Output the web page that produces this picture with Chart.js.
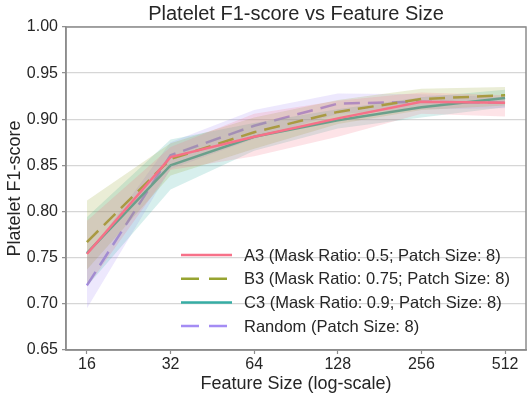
<!DOCTYPE html>
<html>
<head>
<meta charset="utf-8">
<script src="https://cdn.jsdelivr.net/npm/chart.js@4/dist/chart.umd.min.js"></script>
<style>
  html, body { margin: 0; padding: 0; background: #fff; }
  #wrap { width: 532px; height: 399px; position: relative; }
</style>
</head>
<body>
<div id="wrap"><canvas id="f1Chart" width="532" height="399"></canvas></div>
<script>
// feature sizes (x, log scale)
const featureSizes = [16, 32, 64, 128, 256, 512];
const yTicks = [0.65, 0.70, 0.75, 0.80, 0.85, 0.90, 0.95, 1.00];

const labels = [
  'A3 (Mask Ratio: 0.5; Patch Size: 8)',
  'B3 (Mask Ratio: 0.75; Patch Size: 8)',
  'C3 (Mask Ratio: 0.9; Patch Size: 8)',
  'Random (Patch Size: 8)'
];

// mean F1
const a3 = [0.754, 0.859, 0.881, 0.901, 0.919, 0.918];
const b3 = [0.767, 0.857, 0.886, 0.908, 0.922, 0.926];
const c3 = [0.755, 0.850, 0.881, 0.899, 0.913, 0.923];
const rnd = [0.720, 0.861, 0.893, 0.917, 0.919, 0.918];

// confidence bands
const a3Lo = [0.718, 0.845, 0.860, 0.881, 0.906, 0.903];
const a3Hi = [0.790, 0.870, 0.906, 0.920, 0.929, 0.926];
const b3Lo = [0.737, 0.839, 0.868, 0.895, 0.910, 0.915];
const b3Hi = [0.812, 0.874, 0.902, 0.921, 0.933, 0.935];
const c3Lo = [0.719, 0.824, 0.866, 0.890, 0.902, 0.913];
const c3Hi = [0.794, 0.878, 0.896, 0.911, 0.924, 0.932];
const rndLo = [0.695, 0.846, 0.879, 0.906, 0.911, 0.912];
const rndHi = [0.751, 0.875, 0.910, 0.928, 0.927, 0.924];

const colors = ['#f77189', '#97a431', '#36ada4', '#a48cf4'];
const bands = ['rgba(247,113,137,0.2)', 'rgba(151,164,49,0.2)', 'rgba(54,173,164,0.2)', 'rgba(164,140,244,0.2)'];
const dashes = [[], [16, 8], [], [16, 8]];
const legendDashes = [[], [18, 10], [], [18, 10]];

const means = [a3, b3, c3, rnd];
const lows = [a3Lo, b3Lo, c3Lo, rndLo];
const highs = [a3Hi, b3Hi, c3Hi, rndHi];

const pts = arr => arr.map((v, i) => ({x: featureSizes[i], y: v}));

let datasets = [];
means.forEach((m, i) => {
  datasets.push({ label: 'lo', data: pts(lows[i]), borderWidth: 0, pointRadius: 0, fill: false });
  datasets.push({ label: 'hi', data: pts(highs[i]), borderWidth: 0, pointRadius: 0, fill: '-1', backgroundColor: bands[i] });
  datasets.push({ label: labels[i], data: pts(m), borderColor: colors[i], borderWidth: 2.5, borderDash: dashes[i], pointRadius: 0, fill: false, tension: 0 });
});

const font = '"Liberation Sans", Arial, sans-serif';
const txt = '#262626';

// frame + legend inside plot
const extras = {
  id: 'extras',
  afterDatasetsDraw(chart) {
    const ctx = chart.ctx, a = chart.chartArea;
    ctx.save();
    // legend
    ctx.font = '16.5px ' + font;
    ctx.textBaseline = 'middle';
    ctx.fillStyle = txt;
    labels.forEach((l, i) => {
      const y = 255 + i * 23.7;
      ctx.beginPath();
      ctx.strokeStyle = colors[i];
      ctx.lineWidth = 2.5;
      ctx.setLineDash(legendDashes[i]);
      ctx.moveTo(181, y);
      ctx.lineTo(232, y);
      ctx.stroke();
      ctx.setLineDash([]);
      ctx.fillText(l, 244, y + 1);
    });
    // spines
    ctx.strokeStyle = '#8c8c8c';
    ctx.lineWidth = 1.5;
    ctx.strokeRect(a.left, a.top, a.right - a.left, a.bottom - a.top);
    ctx.restore();
  }
};

new Chart(document.getElementById('f1Chart'), {
  type: 'line',
  data: { datasets: datasets },
  options: {
    responsive: false,
    animation: false,
    layout: { padding: { left: 0, right: 6, top: 0, bottom: 0 } },
    plugins: {
      legend: { display: false },
      tooltip: { enabled: false },
      title: {
        display: true,
        text: 'Platelet F1-score vs Feature Size',
        fullSize: false,
        color: txt,
        font: { family: font, size: 20, weight: 'normal' },
        padding: { top: 2, bottom: 1 }
      }
    },
    scales: {
      x: {
        type: 'logarithmic',
        min: 16 / Math.pow(2, 0.25),
        max: 512 * Math.pow(2, 0.25),
        afterBuildTicks: s => { s.ticks = featureSizes.map(v => ({value: v})); },
        afterFit: s => { s.height = 49; },
        grid: { drawOnChartArea: false, tickLength: 4, tickColor: '#8c8c8c', tickWidth: 1.2 },
        border: { color: '#8c8c8c', width: 1.5 },
        ticks: { color: txt, font: { family: font, size: 16 }, padding: 1, autoSkip: false, maxRotation: 0,
          callback: v => String(v) },
        title: { display: true, text: 'Feature Size (log-scale)', color: txt,
          font: { family: font, size: 18 }, padding: { top: 0, bottom: 4 } }
      },
      y: {
        min: 0.65,
        max: 1.0,
        afterBuildTicks: s => { s.ticks = yTicks.map(v => ({value: v})); },
        afterFit: s => { s.width = 66; },
        grid: { color: '#d6d6d6', lineWidth: 1.3, tickLength: 4, tickColor: '#8c8c8c', tickWidth: 1.2 },
        border: { color: '#8c8c8c', width: 1.5 },
        ticks: { color: txt, font: { family: font, size: 16 }, padding: 4, callback: v => v.toFixed(2) },
        title: { display: true, text: 'Platelet F1-score', color: txt,
          font: { family: font, size: 18 }, padding: { top: 4, bottom: 0 } }
      }
    }
  },
  plugins: [extras]
});
</script>
</body>
</html>
